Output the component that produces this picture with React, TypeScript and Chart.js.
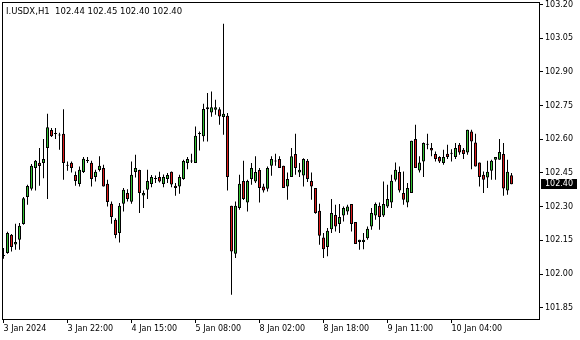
import { useEffect, useRef } from "react";
import { Chart, registerables } from "chart.js";

Chart.register(...registerables);

const chartTitle = "I.USDX,H1  102.44 102.45 102.40 102.40";

const opens = [
  102.08, 102.094, 102.175, 102.132, 102.153, 102.223, 102.343, 102.38, 102.472, 102.496,
  102.494, 102.561, 102.641, 102.623, 102.617, 102.625, 102.482, 102.496, 102.441, 102.401,
  102.454, 102.503, 102.496, 102.432, 102.463, 102.472, 102.402, 102.313, 102.242, 102.183,
  102.313, 102.361, 102.322, 102.454, 102.463, 102.35, 102.375, 102.401, 102.423, 102.432,
  102.401, 102.423, 102.455, 102.393, 102.39, 102.423, 102.494, 102.501, 102.494, 102.623,
  102.613, 102.743, 102.719, 102.731, 102.734, 102.699, 102.705, 102.304, 102.091, 102.294,
  102.414, 102.319, 102.423, 102.412, 102.463, 102.39, 102.38, 102.482, 102.501, 102.512,
  102.482, 102.39, 102.432, 102.534, 102.452, 102.439, 102.504, 102.414, 102.383, 102.282,
  102.163, 102.12, 102.2, 102.263, 102.223, 102.261, 102.279, 102.312, 102.232, 102.143,
  102.143, 102.16, 102.212, 102.261, 102.304, 102.261, 102.301, 102.319, 102.42, 102.454,
  102.361, 102.319, 102.361, 102.601, 102.461, 102.501, 102.576, 102.561, 102.534, 102.521,
  102.494, 102.536, 102.536, 102.521, 102.576, 102.553, 102.541, 102.635, 102.586, 102.497,
  102.442, 102.43, 102.46, 102.509, 102.509, 102.534, 102.372, 102.44,
];
const highs = [
  102.116, 102.188, 102.178, 102.224, 102.227, 102.343, 102.398, 102.49, 102.508, 102.561,
  102.601, 102.714, 102.65, 102.65, 102.629, 102.734, 102.501, 102.501, 102.457, 102.479,
  102.521, 102.521, 102.504, 102.464, 102.524, 102.487, 102.42, 102.323, 102.249, 102.316,
  102.383, 102.378, 102.501, 102.531, 102.464, 102.372, 102.464, 102.441, 102.439, 102.455,
  102.443, 102.45, 102.457, 102.405, 102.442, 102.509, 102.521, 102.536, 102.657, 102.635,
  102.758, 102.806, 102.813, 102.776, 102.743, 103.114, 102.717, 102.304, 102.323, 102.442,
  102.504, 102.42, 102.494, 102.524, 102.472, 102.402, 102.479, 102.524, 102.536, 102.524,
  102.482, 102.452, 102.561, 102.625, 102.494, 102.516, 102.512, 102.452, 102.383, 102.313,
  102.183, 102.205, 102.334, 102.309, 102.312, 102.301, 102.309, 102.312, 102.232, 102.153,
  102.183, 102.212, 102.294, 102.319, 102.319, 102.412, 102.398, 102.442, 102.497, 102.479,
  102.457, 102.405, 102.593, 102.665, 102.524, 102.586, 102.625, 102.583, 102.546, 102.524,
  102.553, 102.576, 102.556, 102.583, 102.583, 102.561, 102.642, 102.642, 102.625, 102.497,
  102.457, 102.504, 102.509, 102.521, 102.601, 102.583, 102.509, 102.45,
];
const lows = [
  102.068, 102.09, 102.101, 102.108, 102.108, 102.22, 102.309, 102.372, 102.372, 102.393,
  102.427, 102.334, 102.61, 102.601, 102.553, 102.42, 102.46, 102.452, 102.393, 102.39,
  102.45, 102.494, 102.39, 102.412, 102.457, 102.39, 102.301, 102.224, 102.16, 102.141,
  102.279, 102.323, 102.313, 102.43, 102.272, 102.294, 102.334, 102.387, 102.405, 102.408,
  102.387, 102.405, 102.387, 102.349, 102.358, 102.42, 102.467, 102.494, 102.494, 102.55,
  102.59, 102.59, 102.7, 102.709, 102.665, 102.62, 102.372, 101.908, 102.071, 102.286,
  102.33, 102.279, 102.398, 102.405, 102.319, 102.363, 102.368, 102.438, 102.482, 102.472,
  102.383, 102.331, 102.432, 102.442, 102.432, 102.39, 102.41, 102.331, 102.268, 102.131,
  102.071, 102.079, 102.183, 102.19, 102.183, 102.234, 102.264, 102.19, 102.134, 102.108,
  102.111, 102.153, 102.197, 102.242, 102.197, 102.254, 102.294, 102.294, 102.412, 102.363,
  102.309, 102.298, 102.361, 102.472, 102.452, 102.432, 102.556, 102.524, 102.501, 102.494,
  102.487, 102.512, 102.501, 102.512, 102.531, 102.512, 102.531, 102.467, 102.479, 102.39,
  102.361, 102.383, 102.42, 102.42, 102.509, 102.349, 102.353, 102.4,
];
const closes = [
  102.08, 102.183, 102.12, 102.143, 102.215, 102.337, 102.392, 102.482, 102.504, 102.481,
  102.512, 102.654, 102.614, 102.623, 102.617, 102.494, 102.482, 102.472, 102.414, 102.464,
  102.513, 102.503, 102.423, 102.455, 102.482, 102.39, 102.321, 102.254, 102.174, 102.304,
  102.375, 102.334, 102.442, 102.472, 102.361, 102.361, 102.414, 102.432, 102.423, 102.412,
  102.432, 102.441, 102.399, 102.383, 102.432, 102.503, 102.512, 102.501, 102.616, 102.623,
  102.735, 102.734, 102.743, 102.743, 102.702, 102.714, 102.432, 102.101, 102.304, 102.402,
  102.334, 102.414, 102.472, 102.454, 102.383, 102.372, 102.472, 102.512, 102.501, 102.472,
  102.383, 102.423, 102.524, 102.472, 102.464, 102.512, 102.423, 102.39, 102.272, 102.171,
  102.111, 102.193, 102.272, 102.212, 102.254, 102.294, 102.301, 102.223, 102.134, 102.153,
  102.153, 102.202, 102.272, 102.312, 102.254, 102.312, 102.334, 102.415, 102.464, 102.372,
  102.331, 102.383, 102.593, 102.472, 102.497, 102.583, 102.576, 102.55, 102.512, 102.501,
  102.521, 102.521, 102.536, 102.561, 102.541, 102.534, 102.642, 102.59, 102.479, 102.432,
  102.42, 102.455, 102.504, 102.521, 102.543, 102.381, 102.455, 102.4,
];

const timeTickBars = [0, 16, 32, 48, 64, 80, 96, 112];
const timeTickLabels = [
  "3 Jan 2024",
  "3 Jan 22:00",
  "4 Jan 15:00",
  "5 Jan 08:00",
  "8 Jan 02:00",
  "8 Jan 18:00",
  "9 Jan 11:00",
  "10 Jan 04:00",
];
const priceTicks = [101.85, 102.0, 102.15, 102.3, 102.45, 102.6, 102.75, 102.9, 103.05, 103.2];

const UP = "#33c233";
const DOWN = "#dc1a1a";
const FONT = "DejaVu Sans";

const overlayPlugin = {
  id: "mtOverlay",
  afterDraw(chart: any) {
    const { ctx, chartArea: a } = chart;
    const yScale = chart.scales.y;
    ctx.save();
    // frame
    ctx.strokeStyle = "#000";
    ctx.lineWidth = 1;
    ctx.strokeRect(a.left - 0.5, a.top - 0.5, a.right - a.left, a.bottom - a.top + 1);
    // title
    ctx.fillStyle = "#000";
    ctx.font = `8.5px "${FONT}"`;
    ctx.textBaseline = "alphabetic";
    ctx.textAlign = "left";
    ctx.fillText(chartTitle, 6, 13.5);
    // current price label
    const last = closes[closes.length - 1];
    const py = yScale.getPixelForValue(last);
    const top = Math.floor(py) - 5;
    ctx.fillStyle = "#000";
    ctx.fillRect(a.right + 1, top, 36, 10);
    ctx.fillStyle = "#fff";
    ctx.font = `8px "${FONT}"`;
    ctx.textBaseline = "middle";
    ctx.fillText(last.toFixed(2), a.right + 5, top + 5);
    ctx.restore();
  },
};

export default function App() {
  const canvasRef = useRef<HTMLCanvasElement | null>(null);

  useEffect(() => {
    const canvas = canvasRef.current;
    if (!canvas) return;
    const n = closes.length;
    const bodyData = closes.map((c, i) => ({ x: i, y: [opens[i], c] }));
    const wickData = closes.map((_, i) => ({ x: i, y: [lows[i], highs[i]] }));
    const bodyColors = closes.map((c, i) => (c >= opens[i] ? UP : DOWN));

    const chart = new Chart(canvas, {
      type: "bar",
      data: {
        datasets: [
          {
            label: "body",
            data: bodyData as any,
            backgroundColor: bodyColors,
            borderColor: "#000",
            borderWidth: 1,
            borderSkipped: false,
            barThickness: 3,
            minBarLength: 1,
            grouped: false,
            inflateAmount: 0,
            order: 0,
          } as any,
          {
            label: "wick",
            data: wickData as any,
            backgroundColor: "#000",
            borderWidth: 0,
            barThickness: 1,
            minBarLength: 1,
            grouped: false,
            inflateAmount: 0,
            order: 1,
          } as any,
        ],
      },
      options: {
        animation: false,
        responsive: false,
        events: [],
        layout: { padding: { left: 3, top: 3, right: 0, bottom: 0 } },
        plugins: {
          legend: { display: false },
          tooltip: { enabled: false },
          title: { display: false },
        },
        scales: {
          x: {
            type: "linear",
            offset: false,
            min: -0.125,
            max: -0.125 + 537 / 4,
            grid: {
              display: true,
              offset: false,
              drawOnChartArea: false,
              drawTicks: true,
              tickLength: 4,
              color: "#000",
              lineWidth: 1,
            },
            border: { display: false },
            afterBuildTicks: (scale: any) => {
              scale.ticks = timeTickBars.map((v) => ({ value: v }));
            },
            afterFit: (scale: any) => {
              scale.height = 21;
              scale.paddingLeft = 0;
              scale.paddingRight = 0;
            },
            ticks: {
              autoSkip: false,
              maxRotation: 0,
              minRotation: 0,
              align: "start",
              padding: 1,
              color: "#000",
              font: { family: FONT, size: 8 },
              callback: (_v: any, idx: number) => timeTickLabels[idx],
            },
          } as any,
          y: {
            type: "linear",
            position: "right",
            min: 101.8,
            max: 103.2067,
            beginAtZero: false,
            grid: {
              display: true,
              drawOnChartArea: false,
              drawTicks: true,
              tickLength: 3,
              color: "#000",
              lineWidth: 1,
            },
            border: { display: false },
            afterBuildTicks: (scale: any) => {
              scale.ticks = priceTicks.map((v) => ({ value: v }));
            },
            afterFit: (scale: any) => {
              scale.width = 40;
              scale.paddingTop = 0;
              scale.paddingBottom = 0;
            },
            ticks: {
              padding: 2,
              color: "#000",
              font: { family: FONT, size: 8 },
              callback: (v: any) => Number(v).toFixed(2),
            },
          } as any,
        },
      },
      plugins: [overlayPlugin],
    });
    void n;
    return () => chart.destroy();
  }, []);

  return (
    <div
      style={{
        position: "fixed",
        left: 0,
        top: 0,
        width: 580,
        height: 340,
        background: "#fff",
      }}
    >
      <canvas ref={canvasRef} width={580} height={340} style={{ display: "block" }} />
    </div>
  );
}
